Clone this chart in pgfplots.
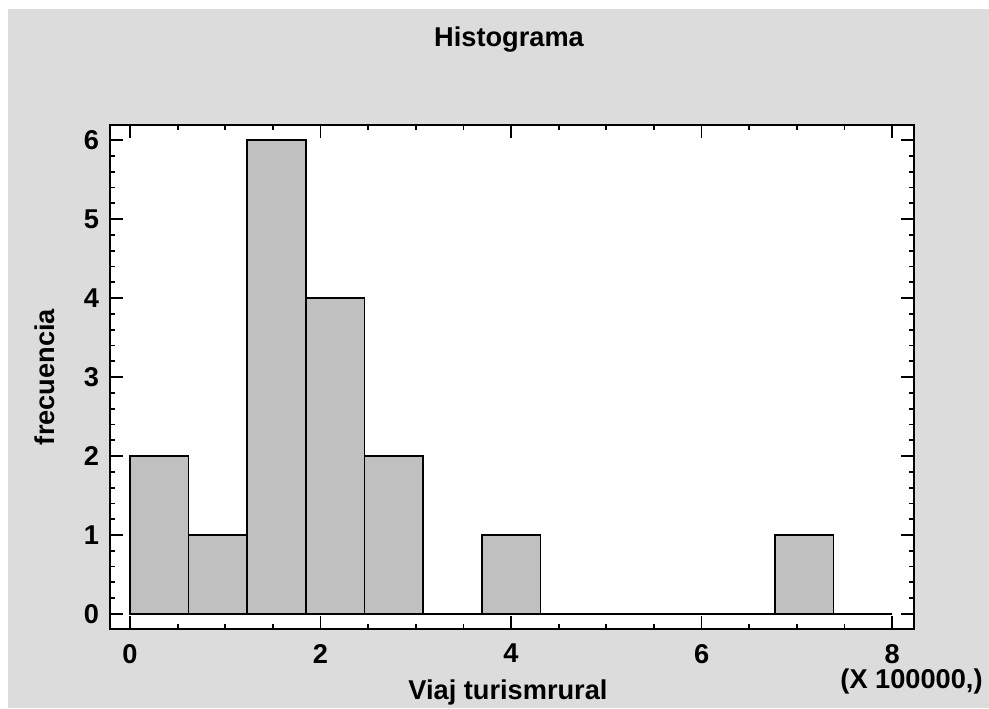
\documentclass[border=0pt]{standalone}
\usepackage{fontspec}
\setmainfont{Liberation Sans}
\usepackage{pgfplots}
\pgfplotsset{compat=1.18}

\definecolor{panel}{RGB}{220,220,220}
\definecolor{barfill}{RGB}{192,192,192}
\newcommand{\chartfont}{\fontsize{13.6}{16}\selectfont\bfseries}

\begin{document}
\begin{tikzpicture}
\useasboundingbox (0,0) rectangle (494.5pt,354pt);
\fill[white] (0,0) rectangle (494.5pt,354pt);
\fill[panel] (4pt,0) rectangle (494.5pt,349.5pt);
\begin{axis}[
  at={(55pt,39.5pt)}, anchor=south west,
  scale only axis, width=402pt, height=252pt,
  xmin=-0.21, xmax=8.23, ymin=-0.19, ymax=6.19,
  xtick={0,2,4,6,8}, ytick={0,1,2,3,4,5,6},
  minor x tick num=3, minor y tick num=4,
  x tick label as interval=false,
  tick align=inside, tick pos=both,
  xticklabel pos=lower, yticklabel pos=left,
  major tick length=6.5pt, minor tick length=2.7pt,
  every tick/.style={black, line width=0.9pt},
  axis line style={black, line width=1pt},
  axis background/.style={fill=white},
  /pgf/number format/assume math mode=true,
  tick label style={font=\chartfont},
  xticklabel style={yshift=-4pt},
  yticklabel style={xshift=-2pt},
  xlabel={Viaj turismrural},
  ylabel={frecuencia},
  every axis x label/.style={at={(axis description cs:0.495,-0.125)}, anchor=center,
               font=\chartfont},
  every axis y label/.style={at={(axis description cs:-0.081,0.5)}, anchor=center, rotate=90,
               font=\chartfont},
]
\addplot[ybar interval, fill=barfill, draw=black, line width=0.8pt]
  coordinates {
    (0.0000,2) (0.6154,1) (1.2308,6) (1.8462,4) (2.4615,2) (3.0769,0)
    (3.6923,1) (4.3077,0) (4.9231,0) (5.5385,0) (6.1538,0) (6.7692,1)
    (7.3846,0) (8.0000,0)
  };
\end{axis}
\node[anchor=base, font=\chartfont, inner sep=0pt] at (254.5pt,330.5pt) {Histograma};
\node[anchor=east, font=\chartfont, inner sep=0pt]
  at (491.5pt,13.5pt) {(X 100000,)};
\end{tikzpicture}
\end{document}
